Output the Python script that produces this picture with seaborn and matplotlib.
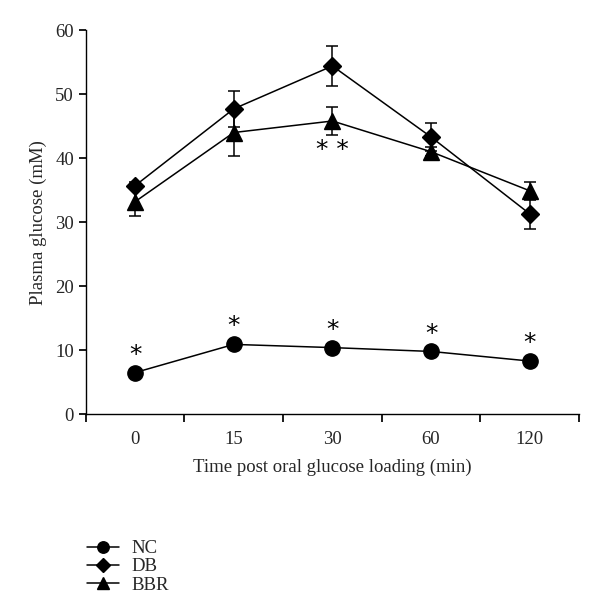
import matplotlib.pyplot as plt
import numpy as np
import seaborn as sns

# Data
times = ["0", "15", "30", "60", "120"]
nc_mean = [6.5, 10.9, 10.4, 9.8, 8.3]
nc_err = [0.5, 0.6, 0.5, 0.5, 0.5]
db_mean = [35.7, 47.7, 54.4, 43.3, 31.3]
db_err = [0.6, 2.8, 3.1, 2.2, 2.4]
bbr_mean = [33.2, 44.0, 45.8, 41.0, 34.9]
bbr_err = [2.3, 3.7, 2.2, 0.7, 1.4]
nc_stars = ["*", "*", "*", "*", "*"]

sns.set_theme(style="ticks")
plt.rcParams['font.family'] = ['Liberation Serif', 'DejaVu Serif']

fig = plt.figure(figsize=(6.0, 6.02), dpi=100)
ax = fig.add_axes([0.143, 0.312, 0.822, 0.638])

x = np.arange(len(times))
series = [
    ("NC", nc_mean, nc_err, "o", 11),
    ("DB", db_mean, db_err, "D", 9.5),
    ("BBR", bbr_mean, bbr_err, "^", 12),
]
for name, mean, err, marker, size in series:
  ax.errorbar(x, mean, yerr=err, color="black", marker=marker, markersize=size,
              linewidth=1.1, elinewidth=1.1, capsize=4, capthick=1.1,
              label=name)

# significance marks
for xi, yi, s in zip(x, nc_mean, nc_stars):
  ax.text(xi, yi + 2.8, s, ha="center", va="center", fontsize=18,
          family="DejaVu Sans", color="black")
ax.text(x[2], bbr_mean[2] - 4.6, "* *", ha="center", va="center",
        fontsize=18, family="DejaVu Sans", color="black")

ax.set_xlim(-0.5, len(times) - 0.5)
ax.set_ylim(0, 60)
ax.set_yticks(range(0, 61, 10))
ax.set_xticks(np.arange(-0.5, len(times), 1.0))
ax.set_xticklabels([])
ax.set_xticks(x, minor=True)
ax.set_xticklabels(times, minor=True)
ax.tick_params(axis="x", which="minor", length=0, pad=12, labelsize=13.5)
ax.tick_params(axis="x", which="major", length=6, direction="out",
               color="black")
ax.tick_params(axis="y", length=5, direction="out", labelsize=13.5,
               color="black")
for sp in ["left", "bottom"]:
  ax.spines[sp].set_color("black")
  ax.spines[sp].set_linewidth(1.0)
sns.despine(ax=ax)

ax.set_xlabel("Time post oral glucose loading (min)", fontsize=13.5,
              labelpad=8)
ax.set_ylabel("Plasma glucose (mM)", fontsize=13.5, labelpad=6)

handles, labels = ax.get_legend_handles_labels()
handles = [h[0] for h in handles]
fig.legend(handles, labels, loc="upper left", bbox_to_anchor=(0.133, 0.115),
           frameon=False, fontsize=13.5, handlelength=1.7, markerscale=0.75,
           handletextpad=0.65, labelspacing=0.05, borderaxespad=0)

fig.savefig("out.png", dpi=100, facecolor="white")
